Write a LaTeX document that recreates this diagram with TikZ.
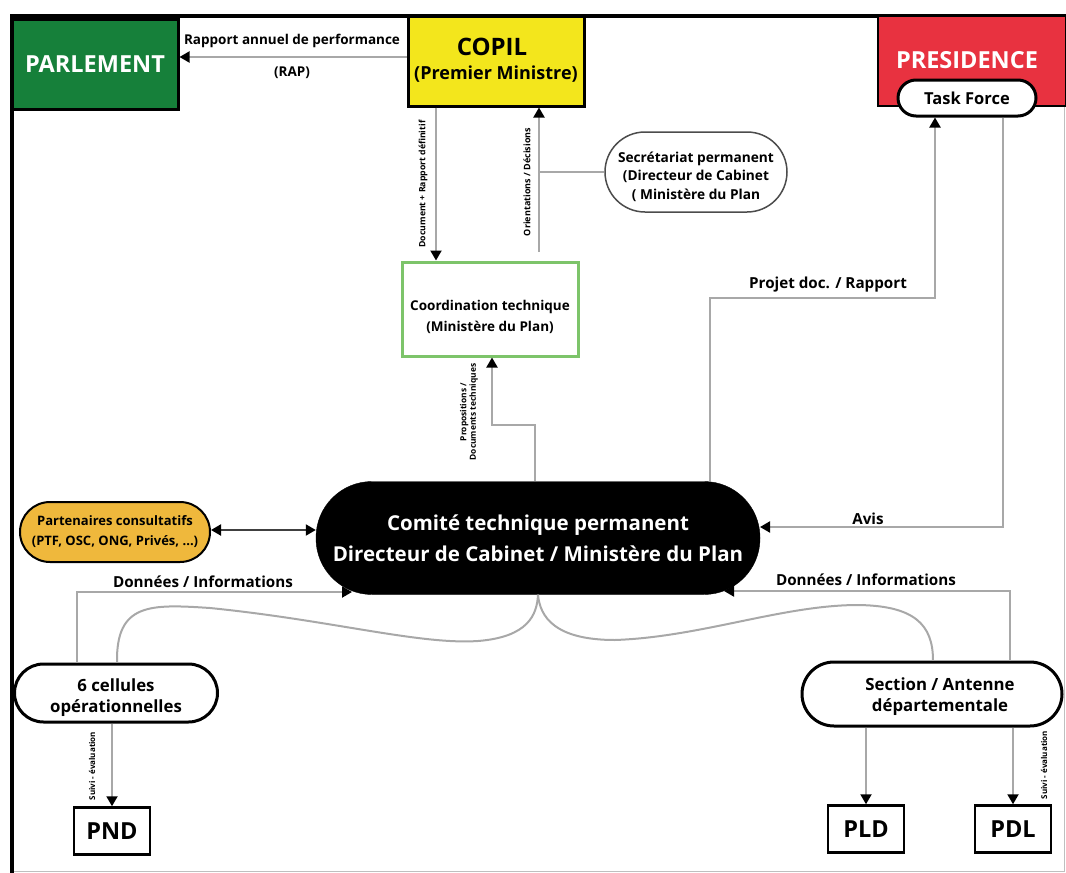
\documentclass[tikz,border=0pt]{standalone}
\usepackage{fontspec}
\setmainfont{Open Sans}
\usetikzlibrary{arrows.meta}
\definecolor{parlgreen}{RGB}{22,128,58}
\definecolor{copilyel}{RGB}{243,230,28}
\definecolor{presred}{RGB}{232,50,64}
\definecolor{coordgreen}{RGB}{125,196,106}
\definecolor{partorange}{RGB}{239,184,60}
\definecolor{linegray}{RGB}{168,168,168}
\newcommand{\fs}[1]{\fontsize{#1}{#1}\selectfont}
\begin{document}
\begin{tikzpicture}[x=1pt,y=-1pt,font=\bfseries,
  conn/.style={draw=linegray,line width=2pt,-{Triangle[length=10pt,width=11pt,color=black]}},
  dconn/.style={draw=black!75,line width=2pt,{Triangle[length=10pt,width=11pt,color=black]}-{Triangle[length=10pt,width=11pt,color=black]}},
  plainline/.style={draw=linegray,line width=2pt},
  topbox/.style={draw=black,line width=3pt,inner sep=0pt,minimum width=#1},
  pill/.style={draw=black,line width=3pt,fill=white,align=center,inner sep=0pt},
  planbox/.style={draw=black,line width=2.5pt,fill=white,inner sep=0pt,minimum width=76pt,minimum height=47pt,font=\bfseries\fs{23.5}},
  lbl/.style={font=\bfseries\fs{15.2},inner sep=1pt},
  vlbl/.style={font=\bfseries\fs{8.7},rotate=90,inner sep=0pt,align=center}]
\useasboundingbox (0,0) rectangle (1066,873);
% frame
\draw[line width=1pt,black!25] (1064,16) -- (1064,871) -- (12,871);
\draw[line width=4pt] (10,16) -- (1066,16);
\draw[line width=4pt] (12,16) -- (12,873);
% top boxes
\node[topbox=166pt,minimum height=90pt,fill=parlgreen,text=white,font=\bfseries\fs{23.5}] (parl) at (95,64) {PARLEMENT};
\node[topbox=176pt,minimum height=90pt,fill=copilyel] (copil) at (496,61) {};
\node[font=\bfseries\fs{24}] (copilA) at (492,47) {COPIL};
\node[font=\bfseries\fs{18}] (copilB) at (496,74) {(Premier Ministre)};
\node[topbox=188pt,minimum height=90pt,fill=presred,line width=2pt] (pres) at (972,61) {};
\node[text=white,font=\bfseries\fs{23.5}] (presA) at (967,60) {PRESIDENCE};
\node[pill,minimum width=138pt,minimum height=36pt,rounded corners=18pt,font=\bfseries\fs{16.5}] (tf) at (967,98) {Task Force};
% middle boxes
\node[draw=coordgreen,line width=3pt,fill=white,minimum width=176pt,minimum height=94pt,align=center,inner sep=0pt,font=\bfseries\fs{13.5}] (coord) at (490,309) {\rule{0pt}{26pt}Coordination technique\\[6.5pt](Ministère du Plan)};
\node[draw=black!70,line width=1.5pt,fill=white,minimum width=182pt,minimum height=80pt,rounded corners=40pt,align=center,inner sep=0pt,font=\bfseries\fs{13.7}] (secr) at (696,172) {\rule{0pt}{20pt}Secrétariat permanent\\[5pt](Directeur de Cabinet\\[5pt]( Ministère du Plan};
\node[fill=black,draw=black,minimum width=444pt,minimum height=113pt,rounded corners=56pt,text=white,align=center,inner sep=0pt,font=\bfseries\fs{20.5}] (com) at (538,538) {Comité technique permanent\\[9pt]Directeur de Cabinet / Ministère du Plan};
\node[draw=black,line width=2pt,fill=partorange,minimum width=190pt,minimum height=60pt,rounded corners=30pt,align=center,inner sep=0pt,font=\bfseries\fs{13}] (part) at (115,532) {Partenaires consultatifs\\[7pt](PTF, OSC, ONG, Privés, ...)};
% bottom
\node[pill,minimum width=203pt,minimum height=58pt,rounded corners=29pt,font=\bfseries\fs{16.8}] (cell) at (116,693) {\rule{0pt}{22pt}6 cellules\\[5pt]opérationnelles};
\node[pill,minimum width=260pt,minimum height=64pt,rounded corners=32pt,font=\bfseries\fs{16.8}] (sect) at (932,694) {\rule{0pt}{18pt}\hspace*{16pt}Section / Antenne\\[4pt]\hspace*{16pt}départementale};
\node[planbox] (pnd) at (112,831) {PND};
\node[planbox] (pld) at (866,829) {PLD};
\node[planbox] (pdl) at (1013,829) {PDL};
% helper coordinates
\coordinate (rapy) at (0,57);
\coordinate (ortstart) at (539,252);
\coordinate (secrjoin) at (539,172);
\coordinate (propA) at (535,425);
\coordinate (propB) at (492,425);
\coordinate (projA) at (710,298);
\coordinate (projB) at (935,298);
\coordinate (avisA) at (1003,527);
\coordinate (avisEnd) at (760,527);
\coordinate (donLA) at (77,592);
\coordinate (donLEnd) at (352,592);
\coordinate (donRA) at (1010,591);
\coordinate (donREnd) at (724,591);
% connectors
\draw[conn] (copil.west |- rapy) -- (parl.east |- rapy);
\draw[conn] (copil.south -| 436,0) -- (coord.north -| 436,0);
\draw[conn] (ortstart) -- (copil.south -| ortstart);
\draw[plainline] (secrjoin) -- (secr.west);
\draw[conn] (com.north -| propA) -- (propA) -- (propB) -- (coord.south -| propB);
\draw[dconn] (part.east |- 0,530) -- (com.west |- 0,530);
\draw[conn] (tf.south -| avisA) -- (avisA) -- (avisEnd);
\draw[conn] (com.north -| projA) -- (projA) -- (projB) -- (tf.south -| projB);
\draw[conn] (cell.north -| donLA) -- (donLA) -- (donLEnd);
\draw[conn] (sect.north -| donRA) -- (donRA) -- (donREnd);
\draw[plainline] (cell.north -| 117,0) .. controls (116,603) and (150,604) .. (210,608)
  .. controls (330,620) and (420,645) .. (478,641) .. controls (528,637) and (537,615) .. (com.south);
\draw[plainline] (com.south) .. controls (540,617) and (555,640) .. (615,640)
  .. controls (700,637) and (780,606) .. (855,605) .. controls (915,605) and (933,625) .. (sect.north -| 933,0);
\draw[conn] (cell.south -| pnd.north) -- (pnd.north);
\draw[conn] (sect.south -| pld.north) -- (pld.north);
\draw[conn] (sect.south -| pdl.north) -- (pdl.north);
% labels
\node[lbl,font=\bfseries\fs{13.5}] (lrap1) at (292,41) {Rapport annuel de performance};
\node[lbl,font=\bfseries\fs{13.5}] (lrap2) at (292,73) {(RAP)};
\node[vlbl] (ldoc) at (423,184) {Document + Rapport définitif};
\node[vlbl,font=\bfseries\fs{9}] (lori) at (527,182) {Orientations / Décisions};
\node[vlbl,font=\bfseries\fs{8.4}] (lprop) at (469,412) {Propositions /\\[1pt]Documents techniques};
\node[lbl] (lproj) at (828,285) {Projet doc. / Rapport};
\node[lbl] (lavis) at (868,519) {Avis};
\node[lbl] (ldonL) at (203,582) {Données / Informations};
\node[lbl] (ldonR) at (866,580) {Données / Informations};
\node[vlbl,font=\bfseries\fs{8}] (lsuiL) at (92,766) {Suivi - évaluation};
\node[vlbl,font=\bfseries\fs{8}] (lsuiR) at (1044,765) {Suivi - évaluation};
\end{tikzpicture}
\end{document}
